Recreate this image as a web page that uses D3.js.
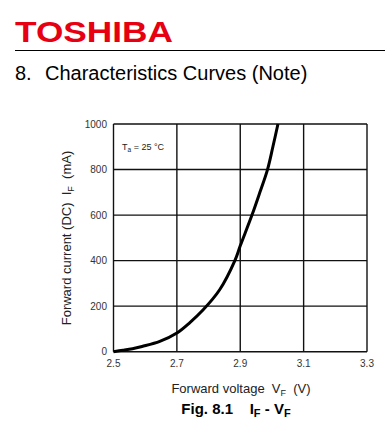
<!DOCTYPE html>
<html><head><meta charset="utf-8">
<script src="https://cdn.jsdelivr.net/npm/d3@7/dist/d3.min.js"></script>
<style>body{margin:0;background:#fff}svg{display:block}text{white-space:pre}</style>
</head><body>
<script>
const voltages = [2.50, 2.53, 2.56, 2.59, 2.646, 2.70, 2.741, 2.783, 2.835, 2.883, 2.90, 2.937, 2.962, 2.986, 3.003, 3.019];
const currents = [0, 6, 13, 23, 45, 82, 128, 184, 272, 400, 465, 600, 700, 800, 900, 1000];
const xTicks = [2.5, 2.7, 2.9, 3.1, 3.3];
const yTicks = [0, 200, 400, 600, 800, 1000];

const W = 385, H = 435;
const svg = d3.select("body").append("svg").attr("width", W).attr("height", H);
const font = "Liberation Sans, Arial, sans-serif";

// Header
svg.append("text").attr("x", 15).attr("y", 42)
  .attr("font-family", font).attr("font-weight", "bold").attr("font-size", 30)
  .attr("fill", "#e60012").attr("textLength", 158).attr("lengthAdjust", "spacingAndGlyphs")
  .text("TOSHIBA");
svg.append("line").attr("x1", 15).attr("x2", 385).attr("y1", 50.5).attr("y2", 50.5)
  .attr("stroke", "#000").attr("stroke-width", 1.2);
svg.append("text").attr("x", 15).attr("y", 80).attr("font-family", font).attr("font-size", 20).attr("fill", "#000").text("8.");
svg.append("text").attr("x", 45).attr("y", 80).attr("font-family", font).attr("font-size", 20).attr("fill", "#000").text("Characteristics Curves (Note)");

// Plot
const x = d3.scaleLinear().domain([2.5, 3.3]).range([113.5, 367]);
const y = d3.scaleLinear().domain([0, 1000]).range([351.7, 124]);

const g = svg.append("g");
g.selectAll("line.v").data(xTicks).join("line")
  .attr("x1", d => x(d)).attr("x2", d => x(d)).attr("y1", y(0)).attr("y2", y(1000))
  .attr("stroke", "#111").attr("stroke-width", 1.4);
g.selectAll("line.h").data(yTicks).join("line")
  .attr("x1", x(2.5)).attr("x2", x(3.3)).attr("y1", d => y(d)).attr("y2", d => y(d))
  .attr("stroke", "#111").attr("stroke-width", 1.4);

// tick labels
g.selectAll("text.yt").data(yTicks).join("text")
  .attr("x", 107).attr("y", d => y(d) + 3.5).attr("text-anchor", "end")
  .attr("font-family", font).attr("font-size", 10).attr("fill", "#333").text(d => d);
g.selectAll("text.xt").data(xTicks).join("text")
  .attr("x", d => x(d)).attr("y", 367).attr("text-anchor", "middle")
  .attr("font-family", font).attr("font-size", 10).attr("fill", "#333").text(d => d.toFixed(1));

// legend
const lg = svg.append("text").attr("x", 122).attr("y", 150).attr("font-family", font).attr("font-size", 9).attr("fill", "#222");
lg.append("tspan").text("T");
lg.append("tspan").attr("font-size", 6.5).attr("dy", 2).text("a");
lg.append("tspan").attr("dy", -2).text(" = 25 °C");

// curve
const line = d3.line().x((d, i) => x(voltages[i])).y(d => y(d)).curve(d3.curveCatmullRom.alpha(0.5));
svg.append("path").datum(currents).attr("d", line)
  .attr("fill", "none").attr("stroke", "#000").attr("stroke-width", 3);

// axis titles
const xt = svg.append("text").attr("x", 241).attr("y", 393).attr("text-anchor", "middle")
  .attr("font-family", font).attr("font-size", 13).attr("fill", "#222");
xt.append("tspan").text("Forward voltage  V");
xt.append("tspan").attr("font-size", 9).attr("dy", 3).text("F");
xt.append("tspan").attr("dy", -3).text("  (V)");

const yt = svg.append("text").attr("transform", "translate(71,238) rotate(-90)").attr("text-anchor", "middle")
  .attr("font-family", font).attr("font-size", 13).attr("fill", "#222");
yt.append("tspan").text("Forward current (DC)  I");
yt.append("tspan").attr("font-size", 9).attr("dy", 3).text("F");
yt.append("tspan").attr("dy", -3).text("  (mA)");

const ft = svg.append("text").attr("x", 236).attr("y", 414).attr("text-anchor", "middle")
  .attr("font-family", font).attr("font-size", 15).attr("font-weight", "bold").attr("fill", "#000");
ft.append("tspan").text("Fig. 8.1    I");
ft.append("tspan").attr("font-size", 11).attr("dy", 3).text("F");
ft.append("tspan").attr("dy", -3).text(" - V");
ft.append("tspan").attr("font-size", 11).attr("dy", 3).text("F");
</script>
</body></html>
